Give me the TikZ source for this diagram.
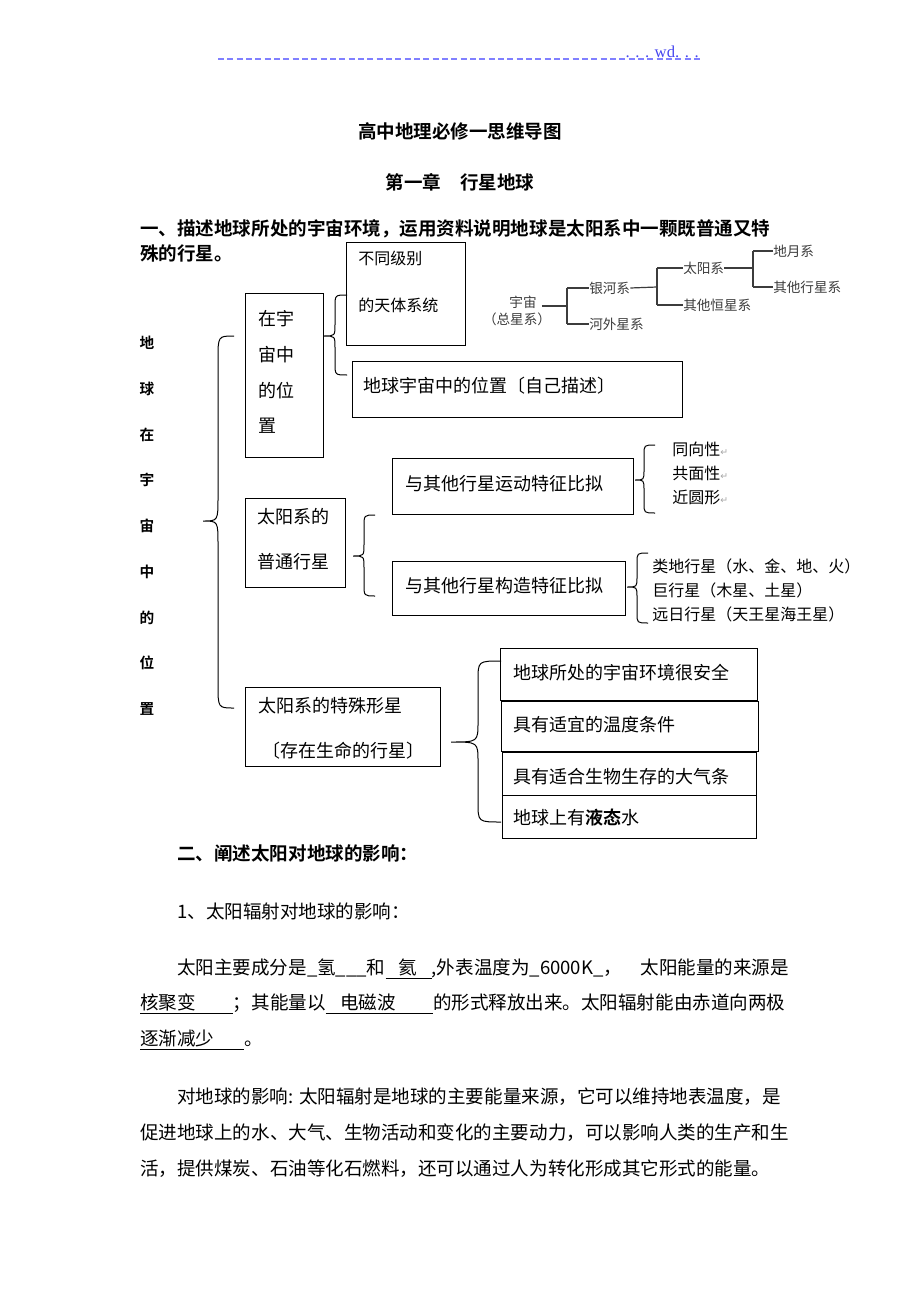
\documentclass[tikz,border=0pt]{standalone}
\usepackage{fontspec}
\setmainfont{Noto Sans CJK SC}[BoldFont={Noto Sans CJK SC Bold}]
\newfontfamily\latserif{Liberation Serif}
\newfontfamily\dejavu{DejaVu Sans}
\definecolor{hdrblue}{RGB}{128,128,255}
\definecolor{wdblue}{RGB}{70,70,240}
\definecolor{treegray}{RGB}{60,60,60}
\tikzset{
  box/.style={draw, line width=0.9pt, inner sep=0pt, anchor=north west},
  txt/.style={inner sep=0pt, anchor=west, font=\fontsize{13.5}{15}\selectfont},
  txtsmall/.style={inner sep=0pt, anchor=west, font=\fontsize{12}{14}\selectfont},
  body/.style={inner sep=0pt, anchor=west, font=\fontsize{13.9}{16}\selectfont},
  head/.style={inner sep=0pt, font=\fontsize{13.9}{16}\selectfont\bfseries},
  vchar/.style={inner sep=0pt, font=\fontsize{11}{12}\selectfont\bfseries},
  treetxt/.style={inner sep=0pt, text=treegray, font=\fontsize{10.2}{11}\selectfont},
  treeline/.style={draw=treegray, line width=0.9pt},
  braceline/.style={draw, line width=0.75pt}
}
\newcommand{\boxnode}[5]{\node[box, minimum width={(#4-#2)*0.75pt}, minimum height={(#5-#3)*0.75pt}] (#1) at (#2,#3) {};}
% #1 xend, #2 ytop, #3 ybot, #4 xvert, #5 xtip, #6 ymid, #7 radius
\newcommand{\mybrace}[7]{\draw[braceline] (#1,#2) .. controls (#4,#2) .. (#4,#2+#7) -- (#4,#6-#7) .. controls (#4,#6) .. (#5,#6) .. controls (#4,#6) .. (#4,#6+#7) -- (#4,#3-#7) .. controls (#4,#3) .. (#1,#3);}
\newcommand{\rt}{{\dejavu\color{gray!70}\fontsize{7}{8}\selectfont ↵}}
\begin{document}
\begin{tikzpicture}[x=0.75pt,y=-0.75pt]
\useasboundingbox (0,0) rectangle (920,1302);
\fill[white] (0,0) rectangle (920,1302);

% header
\coordinate (hl) at (218,59);
\coordinate (hr) at (700,59);
\draw[hdrblue, line width=1.2pt, dash pattern=on 4.5pt off 2.5pt] (hl) -- (hr);
\node[inner sep=0pt, anchor=east, text=wdblue, font=\latserif\fontsize{12.5}{13}\selectfont] (wd) at (699,52) {. . . wd. . .};

% titles
\node[head] (t1) at (460,131) {高中地理必修一思维导图};
\node[head] (t2) at (460,182) {第一章\hspace{1em}行星地球};
\node[head, anchor=west] (t3) at (140,229) {一、描述地球所处的宇宙环境，运用资料说明地球是太阳系中一颗既普通又特};
\node[head, anchor=west] (t4) at (140,253) {殊的行星。};

% vertical label
\foreach \c [count=\i from 0] in {地,球,在,宇,宙,中,的,位,置}{
  \node[vchar] (v\i) at (147,{343+45.75*\i}) {\c};
}

% boxes
\boxnode{A}{346}{242}{465}{345}
\node[txtsmall] (At1) at (358,258) {不同级别};
\node[txtsmall] (At2) at (358,305) {的天体系统};

\boxnode{B}{245}{293}{323}{457}
\node[txt] (Bt1) at (258,319) {在宇};
\node[txt] (Bt2) at (258,355) {宙中};
\node[txt] (Bt3) at (258,391) {的位};
\node[txt] (Bt4) at (258,426) {置};

\boxnode{C}{352}{361}{682}{417}
\node[txt] (Ct) at (363,386) {地球宇宙中的位置〔自己描述〕};

\boxnode{D}{245}{498}{345}{587}
\node[txt] (Dt1) at (257,517) {太阳系的};
\node[txt] (Dt2) at (257,562) {普通行星};

\boxnode{E}{392}{458}{633}{514}
\node[txt] (Et) at (405,484) {与其他行星运动特征比拟};

\boxnode{F}{392}{561}{625}{615}
\node[txt] (Ft) at (405,586) {与其他行星构造特征比拟};

\node[txtsmall] (e1) at (672,449) {同向性\rt};
\node[txtsmall] (e2) at (672,473) {共面性\rt};
\node[txtsmall] (e3) at (672,497) {近圆形\rt};

\node[txtsmall] (f1) at (652,566) {类地行星（水、金、地、火）};
\node[txtsmall] (f2) at (652,590) {巨行星（木星、土星）};
\node[txtsmall] (f3) at (652,614) {远日行星（天王星海王星）};

\boxnode{G}{245}{687}{440}{766}
\node[txt] (Gt1) at (258,706) {太阳系的特殊形星};
\node[txt] (Gt2) at (262,751) {〔存在生命的行星〕};

\boxnode{H1}{500}{648}{757}{700}
\node[txt] (H1t) at (513,673) {地球所处的宇宙环境很安全};
\boxnode{H2}{501}{701}{758}{751}
\node[txt] (H2t) at (513,725) {具有适宜的温度条件};
\boxnode{H3}{502}{752}{756}{795}
\node[txt] (H3t) at (513,777) {具有适合生物生存的大气条};
\boxnode{H4}{502}{795}{756}{838}
\node[txt] (H4t) at (513,818) {地球上有\textbf{液态}水};

% braces
\mybrace{234}{336}{708}{218}{203}{521}{24}
\mybrace{347}{295}{375}{335}{324}{336}{12}
\mybrace{375}{515}{596}{364}{353}{556}{12}
\mybrace{655}{445}{513}{644}{635}{480}{10}
\mybrace{648}{553}{623}{637}{627}{587}{10}
\mybrace{501}{661}{822}{478}{451}{742}{20}

% small tree
\node[treetxt] (yz) at (523,302) {宇宙};
\node[treetxt] (zx) at (517,319) {（总星系）};
\node[treetxt, anchor=west] (yh) at (589,288) {银河系};
\node[treetxt, anchor=west] (hw) at (589,324) {河外星系};
\node[treetxt, anchor=west] (ty) at (683,268) {太阳系};
\node[treetxt, anchor=west] (qh) at (683,305) {其他恒星系};
\node[treetxt, anchor=west] (dy) at (773,251) {地月系};
\node[treetxt, anchor=west] (qx) at (773,287) {其他行星系};
\coordinate (j1) at (567,306);
\coordinate (j2) at (657,287);
\coordinate (j3) at (753,268);
\draw[treeline] (yz.east |- j1) ++(5,0) -- (j1);
\draw[treeline] (yh.west -| j1) -- (hw.west -| j1);
\draw[treeline] (yh.west -| j1) -- (yh.west);
\draw[treeline] (hw.west -| j1) -- (hw.west);
\draw[treeline] (yh.east) -- (j2);
\draw[treeline] (ty.west -| j2) -- (qh.west -| j2);
\draw[treeline] (ty.west -| j2) -- (ty.west);
\draw[treeline] (qh.west -| j2) -- (qh.west);
\draw[treeline] (ty.east) -- (j3);
\draw[treeline] (dy.west -| j3) -- (qx.west -| j3);
\draw[treeline] (dy.west -| j3) -- (dy.west);
\draw[treeline] (qx.west -| j3) -- (qx.west);

% section two
\node[head, anchor=west] (s2) at (177,853) {二、阐述太阳对地球的影响：};
\node[body] (s21) at (177,911) {1、太阳辐射对地球的影响：};
\node[body] (p1) at (177,969) {太阳主要成分是\_氢\_\_\_和\underline{\hspace{0.7em}氦\hspace{0.8em}},外表温度为\_6000K\_，\hspace{1em}太阳能量的来源是};
\node[body] (p2) at (140,1004) {\underline{核聚变\hspace{2em}}；其能量以\underline{\hspace{0.8em}电磁波\hspace{2em}}的形式释放出来。太阳辐射能由赤道向两极};
\node[body] (p3) at (140,1040) {\underline{逐渐减少\hspace{1.6em}}。};
\node[body] (q1) at (177,1097) {对地球的影响: 太阳辐射是地球的主要能量来源，它可以维持地表温度，是};
\node[body] (q2) at (140,1133) {促进地球上的水、大气、生物活动和变化的主要动力，可以影响人类的生产和生};
\node[body] (q3) at (140,1169) {活，提供煤炭、石油等化石燃料，还可以通过人为转化形成其它形式的能量。};
\end{tikzpicture}
\end{document}
